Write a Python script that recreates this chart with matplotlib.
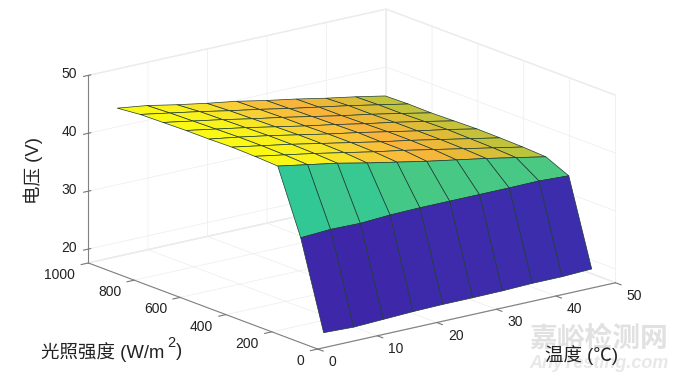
import numpy as np
from matplotlib import pyplot as plt
from matplotlib.colors import LinearSegmentedColormap, Normalize
from mpl_toolkits.mplot3d import proj3d

# temperature (C), irradiance (W/m2), voltage (V)
temps = [1, 6, 11, 16, 21, 26, 31, 36, 41, 46]
irradiance = [0, 100, 200, 300, 400, 500, 600, 700, 800, 900]
v_000 = [20.2, 20.0, 20.2, 20.4, 20.5, 20.5, 20.55, 20.7, 20.7, 20.9]
v_100 = [35.1, 35.4, 35.3, 35.6, 35.7, 35.7, 35.7, 35.7, 35.75, 35.5]
v_200 = [46.0, 45.1, 44.2, 43.1, 42.1, 41.1, 40.2, 39.3, 38.3, 37.3]
v_300 = [46.2, 45.3, 44.4, 43.4, 42.4, 41.5, 40.5, 39.5, 38.5, 37.5]
v_400 = [46.3, 45.4, 44.5, 43.5, 42.5, 41.5, 40.6, 39.6, 38.6, 37.6]
v_500 = [46.2, 45.4, 44.5, 43.5, 42.5, 41.6, 40.6, 39.6, 38.7, 37.65]
v_600 = [46.2, 45.3, 44.4, 43.4, 42.4, 41.5, 40.5, 39.6, 38.6, 37.55]
v_700 = [46.1, 45.2, 44.3, 43.3, 42.4, 41.4, 40.4, 39.5, 38.5, 37.45]
v_800 = [46.0, 45.1, 44.2, 43.2, 42.3, 41.3, 40.4, 39.5, 38.5, 37.5]
v_900 = [45.6, 44.9, 43.9, 43.0, 42.2, 41.2, 40.3, 39.3, 38.4, 37.4]

x_ticks = [0, 10, 20, 30, 40, 50]
y_ticks = [0, 200, 400, 600, 800, 1000]
z_ticks = [20, 30, 40, 50]
z_floor = 17.6

latin = 'Liberation Sans'
mixed = ['Liberation Sans', 'Noto Sans CJK SC']

plt.rcParams['font.family'] = latin
plt.rcParams['grid.color'] = '#eeeef1'
plt.rcParams['grid.linewidth'] = 0.55
plt.rcParams['axes.linewidth'] = 0.7

# parula like map, stops picked from the face colours
stops = [(0.0, (62, 38, 168)), (0.3, (40, 130, 220)), (0.574, (50, 200, 150)),
         (0.60, (75, 200, 130)), (0.665, (155, 200, 70)), (0.70, (190, 195, 60)),
         (0.73, (215, 190, 55)), (0.77, (235, 185, 55)), (0.82, (250, 180, 60)),
         (0.875, (248, 200, 55)), (0.91, (248, 222, 45)), (0.95, (250, 240, 30)),
         (1.0, (250, 248, 20))]
cmap = LinearSegmentedColormap.from_list('parula_ish', [(p, np.array(c) / 255) for p, c in stops])

X, Y = np.meshgrid(temps, irradiance)
Z = np.array([v_000, v_100, v_200, v_300, v_400, v_500, v_600, v_700, v_800, v_900])
colors = cmap(Normalize(20, 46.3)(Z))

fig = plt.figure(figsize=(6.8, 3.8), dpi=100)
ax = fig.add_axes([69.5 / 680, -81.5 / 380, 550 / 680, 550 / 380], projection='3d', proj_type='ortho')
ax.view_init(elev=16.8, azim=-127.6)
ax.set_box_aspect((376, 376, 196), zoom=1.0)
ax.patch.set_alpha(0)

ax.plot_surface(X, Y, Z, facecolors=colors, edgecolor='#1e3c32', linewidth=0.5,
                rstride=1, cstride=1, shade=False, antialiased=True)

ax.set_xlim(0, 50)
ax.set_ylim(0, 1000)
ax.set_zlim(z_floor, 50)
ax.set_xticks(x_ticks)
ax.set_yticks(y_ticks)
ax.set_zticks(z_ticks)
ax.tick_params(color='#777777', labelbottom=False, labelleft=False, labelsize=1, labelcolor='none')

for axis in (ax.xaxis, ax.yaxis, ax.zaxis):
    axis.set_major_formatter(plt.NullFormatter())
    axis.set_pane_color((1, 1, 1, 1))
    axis.pane.set_edgecolor('#e8e8ec')
    axis.line.set_color('#808080')
    axis.line.set_linewidth(0.8)

for axis in (ax.xaxis, ax.yaxis):
    axis._axinfo['tick']['inward_factor'] = 0.3
    axis._axinfo['tick']['outward_factor'] = 0.0

proj = ax.get_proj()


def tick_text(x, y, z, s, dx, dy, ha):
    # label sits a fixed number of pixels away from its tick
    px, py, _ = proj3d.proj_transform(x, y, z, proj)
    ax.annotate(s, (px, py), xytext=(dx, dy), textcoords='offset pixels', fontsize=10,
                color='#222222', ha=ha, va='center', annotation_clip=False)


for v in x_ticks:
    tick_text(v, 0, z_floor, str(v), 11, -13, 'left')
for v in y_ticks:
    tick_text(0, v, z_floor, str(v), -13, -12, 'right')
for v in z_ticks:
    tick_text(0, 1000, v, str(v), -11, 1, 'right')

fig.text(33 / 680, 1 - 171 / 380, '电压 (V)', rotation=90, family=mixed, fontsize=13.3,
         ha='center', va='center', color='#222222')
fig.text(41 / 680, 1 - 352 / 380, '光照强度 (W/m', family=mixed, fontsize=13.3,
         ha='left', va='center', color='#222222')
fig.text(171 / 680, 1 - 343 / 380, '2', family=latin, fontsize=10.5,
         ha='center', va='center', color='#222222')
fig.text(176 / 680, 1 - 352 / 380, ')', family=latin, fontsize=13.3,
         ha='left', va='center', color='#222222')
fig.text(581.5 / 680, 1 - 355 / 380, '温度 (℃)', family=mixed, fontsize=13.3,
         ha='center', va='center', color='#222222', zorder=5)

# site watermark
fig.text(599 / 680, 1 - 339 / 380, '嘉峪检测网', family=mixed, fontsize=20, fontweight='bold',
         ha='center', va='center', color='#e1e1e1', zorder=0)
fig.text(599 / 680, 1 - 363 / 380, 'AnyTesting.com', family=latin, fontsize=13, style='italic',
         fontweight='bold', ha='center', va='center', color='#e8e8e8', zorder=0)

fig.savefig('out.png', dpi=100)
